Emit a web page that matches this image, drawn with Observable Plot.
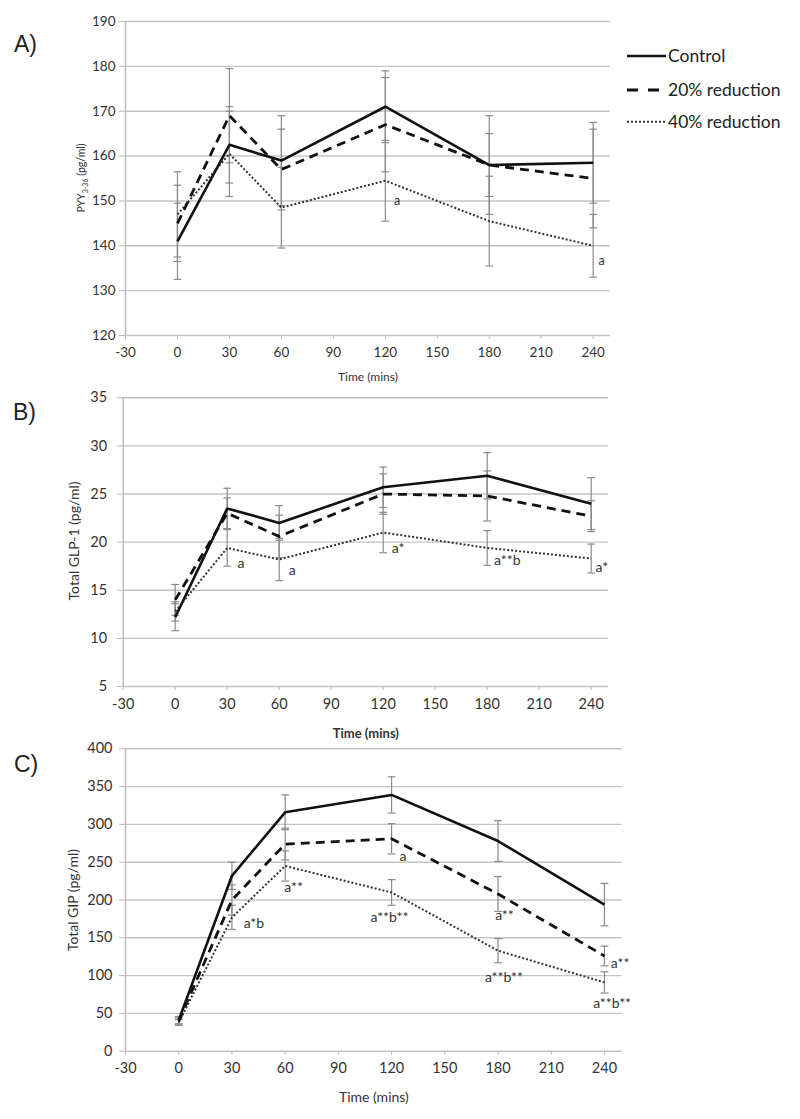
<!DOCTYPE html>
<html>
<head>
<meta charset="utf-8">
<script src="https://cdn.jsdelivr.net/npm/d3@7"></script>
<script src="https://cdn.jsdelivr.net/npm/@observablehq/plot@0.6"></script>
<style>
  html, body { margin: 0; padding: 0; background: white; }
  #root { position: relative; width: 800px; height: 1119px; overflow: hidden; font-family: Lato, "Open Sans", sans-serif; background: white; }
  .panel { position: absolute; left: 0; }
</style>
</head>
<body>
<div id="root"></div>
<script>
// ---------- data ----------
const times = [0, 30, 60, 120, 180, 240];
const seriesNames = ["Control", "20% reduction", "40% reduction"];
const xTicks = [-30, 0, 30, 60, 90, 120, 150, 180, 210, 240];

// Panel A: PYY3-36 (pg/ml)
const pyyControl = [141, 162.5, 159, 171, 158, 158.5];
const pyyControlErr = [8.5, 8.5, 10, 8, 11, 9];
const pyy20 = [145, 169, 157, 167, 158, 155];
const pyy20Err = [8.5, 10.5, 9, 10.5, 7, 11];
const pyy40 = [147, 160.5, 148.5, 154.5, 145.5, 140];
const pyy40Err = [9.5, 9.5, 9, 9, 10, 7];
const pyyTicks = [120, 130, 140, 150, 160, 170, 180, 190];
const pyyNotes = [
  {t: 125, v: 150, label: "a", anchor: "start"},
  {t: 243, v: 136.5, label: "a", anchor: "start"}
];

// Panel B: Total GLP-1 (pg/ml)
const glpControl = [12.2, 23.5, 22.0, 25.7, 26.9, 24.0];
const glpControlErr = [1.4, 2.1, 1.8, 2.1, 2.4, 2.7];
const glp20 = [14.0, 23.0, 20.6, 25.0, 24.8, 22.7];
const glp20Err = [1.6, 1.6, 2.2, 2.1, 2.6, 1.6];
const glp40 = [12.8, 19.4, 18.2, 21.0, 19.4, 18.3];
const glp40Err = [1.0, 1.9, 2.2, 2.1, 1.8, 1.5];
const glpTicks = [5, 10, 15, 20, 25, 30, 35];
const glpNotes = [
  {t: 36, v: 17.8, label: "a", anchor: "start"},
  {t: 65.5, v: 17.1, label: "a", anchor: "start"},
  {t: 125, v: 19.3, label: "a*", anchor: "start"},
  {t: 184, v: 18.1, label: "a**b", anchor: "start"},
  {t: 242.5, v: 17.4, label: "a*", anchor: "start"}
];

// Panel C: Total GIP (pg/ml)
const gipControl = [41, 232, 316, 339, 278, 194];
const gipControlErr = [5, 18, 23, 24, 27, 28];
const gip20 = [40, 200, 274, 281, 208, 126];
const gip20Err = [4, 20, 21, 20, 23, 13];
const gip40 = [38, 177, 245, 210, 133, 91];
const gip40Err = [4, 16, 20, 17, 16, 14];
const gipTicks = [0, 50, 100, 150, 200, 250, 300, 350, 400];
const gipNotes = [
  {t: 36.6, v: 169, label: "a*b", anchor: "start"},
  {t: 59.5, v: 217, label: "a**", anchor: "start"},
  {t: 118.8, v: 177, label: "a**b**", anchor: "middle"},
  {t: 124.5, v: 257, label: "a", anchor: "start"},
  {t: 178.4, v: 180, label: "a**", anchor: "start"},
  {t: 183.3, v: 98, label: "a**b**", anchor: "middle"},
  {t: 243.6, v: 115.6, label: "a**", anchor: "start"},
  {t: 244.3, v: 63, label: "a**b**", anchor: "middle"}
];

// ---------- helpers ----------
const lineStyles = {
  "Control": {strokeWidth: 2.6, strokeDasharray: null, stroke: "#111", legendDash: null, legendX2: 666},
  "20% reduction": {strokeWidth: 2.8, strokeDasharray: "9,6", stroke: "#111", legendDash: "11,10", legendX2: 659},
  "40% reduction": {strokeWidth: 2, strokeDasharray: "2,2", stroke: "#333", legendDash: "2,2", legendX2: 665}
};

function buildRows(vals) {
  const rows = [];
  vals.forEach(([name, ys, es]) => {
    times.forEach((t, i) => rows.push({series: name, t, v: ys[i], lo: ys[i] - es[i], hi: ys[i] + es[i]}));
  });
  return rows;
}

function panel(opts) {
  const {rows, notes, yTicks, height, mt, mb, ml, mr, tickFont, yPad, xLabelFont, xLabelDy, xLabelWeight, noteFont} = opts;
  const capHalf = 2.2;
  const marks = [
    Plot.gridY(yTicks, {stroke: "#c4c4c4", strokeOpacity: 1, strokeWidth: 1.4}),
    Plot.ruleX([-30], {stroke: "#b8b8b8", strokeWidth: 1.4}),
    Plot.axisY(yTicks, {tickSize: 6, stroke: "#b8b8b8", tickPadding: yPad, fontSize: tickFont, fill: "#333", label: null, tickFormat: d => String(d)}),
    Plot.axisX(xTicks, {tickSize: 4, stroke: "#b8b8b8", tickPadding: 8, fontSize: tickFont, fill: "#333", label: null, tickFormat: d => String(d)}),
    // error bars
    Plot.ruleX(rows, {x: "t", y1: "lo", y2: "hi", stroke: "#8a8a8a", strokeWidth: 1.2}),
    Plot.link(rows, {x1: d => d.t - capHalf, x2: d => d.t + capHalf, y1: "hi", y2: "hi", stroke: "#8a8a8a", strokeWidth: 1.2}),
    Plot.link(rows, {x1: d => d.t - capHalf, x2: d => d.t + capHalf, y1: "lo", y2: "lo", stroke: "#8a8a8a", strokeWidth: 1.2}),
  ];
  seriesNames.slice().reverse().forEach(name => {
    const s = lineStyles[name];
    marks.push(Plot.line(rows.filter(r => r.series === name), {x: "t", y: "v", stroke: s.stroke, strokeWidth: s.strokeWidth, strokeDasharray: s.strokeDasharray, strokeLinecap: "butt", strokeLinejoin: "miter"}));
  });
  marks.push(Plot.text(notes.filter(n => n.anchor === "start"), {x: "t", y: "v", text: "label", textAnchor: "start", fontSize: noteFont, fill: "#333"}));
  marks.push(Plot.text(notes.filter(n => n.anchor === "middle"), {x: "t", y: "v", text: "label", textAnchor: "middle", fontSize: noteFont, fill: "#333"}));
  marks.push(Plot.text(["Time (mins)"], {frameAnchor: "bottom", lineAnchor: "middle", dy: xLabelDy, text: d => d, fontSize: xLabelFont, fontWeight: xLabelWeight, fill: "#333"}));
  return Plot.plot({
    width: 800, height,
    marginTop: mt, marginBottom: mb, marginLeft: ml, marginRight: mr,
    style: {fontFamily: "Lato, 'Open Sans', sans-serif", background: "transparent", overflow: "visible"},
    x: {domain: [-30, 250], label: null},
    y: {domain: [yTicks[0], yTicks[yTicks.length - 1]], label: null},
    marks
  });
}

const root = document.getElementById("root");
function place(svg, top) {
  svg.classList.add("panel");
  svg.style.top = top + "px";
  root.appendChild(svg);
  return d3.select(svg);
}
function addText(sel, x, y, txt, size, family) {
  return sel.append("text").attr("x", x).attr("y", y).attr("text-anchor", "start")
    .attr("font-family", family).attr("font-size", size).attr("fill", "#222").text(txt);
}

// ---------- Panel A ----------
const rowsA = buildRows([["Control", pyyControl, pyyControlErr], ["20% reduction", pyy20, pyy20Err], ["40% reduction", pyy40, pyy40Err]]);
const svgA = place(panel({rows: rowsA, notes: pyyNotes, yTicks: pyyTicks, height: 390, mt: 21, mb: 55, ml: 125, mr: 190, tickFont: 13.5, yPad: 4, xLabelFont: 12, xLabelDy: 42, xLabelWeight: "normal", noteFont: 12.5}), 0);
addText(svgA, 14, 52, "A)", 23, "Arial, 'Liberation Sans', sans-serif");
{
  const t = svgA.append("text").attr("transform", "translate(85,178) rotate(-90)").attr("text-anchor", "middle").attr("font-size", 10.5).attr("fill", "#333").attr("font-family", "Lato, sans-serif");
  t.append("tspan").text("PYY");
  t.append("tspan").attr("font-size", 7).attr("dy", 2.5).text("3-36");
  t.append("tspan").attr("dy", -2.5).text(" (pg/ml)");
}
// legend
{
  const lg = svgA.append("g");
  const legendY = [56, 90, 121.7];
  seriesNames.forEach((name, i) => {
    const s = lineStyles[name];
    const y = legendY[i];
    const ln = lg.append("line").attr("x1", 627).attr("x2", s.legendX2).attr("y1", y).attr("y2", y)
      .attr("stroke", s.stroke).attr("stroke-width", s.strokeWidth);
    if (s.legendDash) ln.attr("stroke-dasharray", s.legendDash);
    addText(lg, 668, y + 5.8, name, 17.5, "Lato, sans-serif");
  });
}

// ---------- Panel B ----------
const rowsB = buildRows([["Control", glpControl, glpControlErr], ["20% reduction", glp20, glp20Err], ["40% reduction", glp40, glp40Err]]);
const svgB = place(panel({rows: rowsB, notes: glpNotes, yTicks: glpTicks, height: 368, mt: 27.3, mb: 52, ml: 122.7, mr: 192, tickFont: 14.5, yPad: 10, xLabelFont: 13, xLabelDy: 47, xLabelWeight: "bold", noteFont: 14}), 370);
addText(svgB, 13, 50, "B)", 23, "Arial, 'Liberation Sans', sans-serif");
svgB.append("text").attr("transform", "translate(79,171) rotate(-90)").attr("text-anchor", "middle").attr("font-size", 14).attr("fill", "#333").attr("font-family", "Lato, sans-serif").text("Total GLP-1 (pg/ml)");

// ---------- Panel C ----------
const rowsC = buildRows([["Control", gipControl, gipControlErr], ["20% reduction", gip20, gip20Err], ["40% reduction", gip40, gip40Err]]);
const svgC = place(panel({rows: rowsC, notes: gipNotes, yTicks: gipTicks, height: 381, mt: 10.3, mb: 68.3, ml: 125, mr: 178.3, tickFont: 14.5, yPad: 7, xLabelFont: 14, xLabelDy: 46, xLabelWeight: "normal", noteFont: 14}), 738);
addText(svgC, 14, 34, "C)", 23, "Arial, 'Liberation Sans', sans-serif");
svgC.append("text").attr("transform", "translate(78,162) rotate(-90)").attr("text-anchor", "middle").attr("font-size", 14).attr("fill", "#333").attr("font-family", "Lato, sans-serif").text("Total GIP (pg/ml)");
</script>
</body>
</html>
